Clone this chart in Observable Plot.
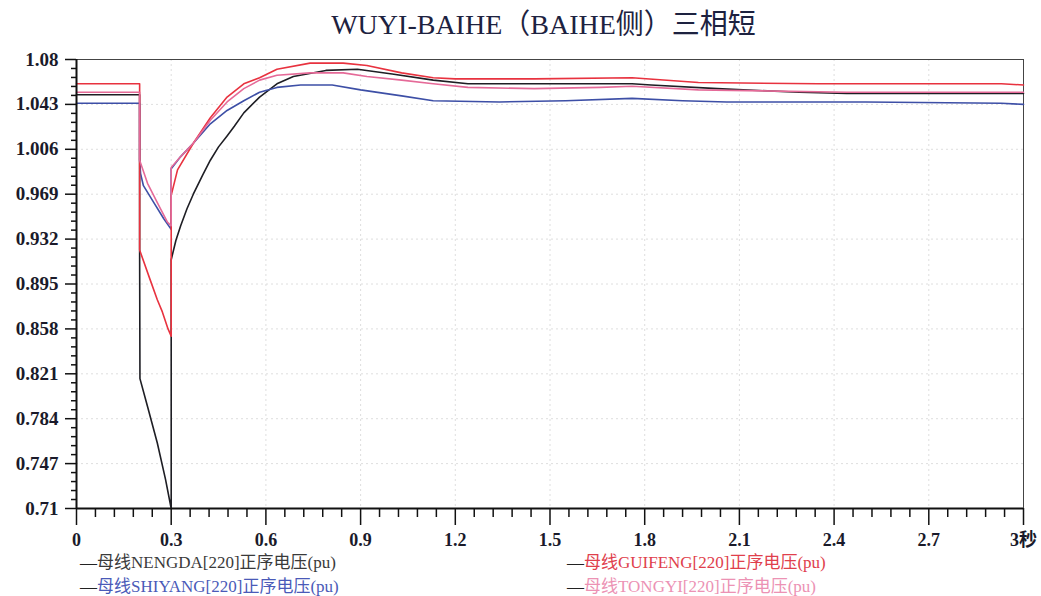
<!DOCTYPE html>
<html><head><meta charset="utf-8">
<script src="https://cdn.jsdelivr.net/npm/d3@7"></script>
<script src="https://cdn.jsdelivr.net/npm/@observablehq/plot@0.6"></script>
<style>
body{margin:0;background:#fff;width:1041px;height:596px;overflow:hidden;font-family:"Liberation Serif","Noto Sans CJK SC",serif;}
#title{height:48px;line-height:50px;font-size:28px;color:#1d2240;text-align:center;padding-left:46px;box-sizing:border-box;white-space:nowrap;}
#chart svg{display:block;}
#legend{position:relative;height:43px;font-size:17px;}
.item{position:absolute;white-space:nowrap;line-height:20px;}
.item .dash{color:#222;}
</style></head><body>
<div id="title">WUYI-BAIHE（BAIHE侧）三相短</div>
<div id="chart"></div>
<div id="legend"></div>
<script>
// ---- data ----
const seriesNames = ["母线NENGDA[220]正序电压(pu)", "母线SHIYANG[220]正序电压(pu)", "母线GUIFENG[220]正序电压(pu)", "母线TONGYI[220]正序电压(pu)"];
const seriesColors = ["#1e1e24", "#3d4fa6", "#e8323f", "#e56a98"];
const legendTextColors = ["#3a3a3a", "#4a5ab8", "#e0404c", "#ec92b4"];

const nengdaT = [0, 0.2, 0.2, 0.201, 0.225, 0.256, 0.282, 0.3, 0.3, 0.315, 0.33, 0.35, 0.37, 0.4, 0.424, 0.45, 0.477, 0.5, 0.53, 0.58, 0.635, 0.687, 0.79, 0.89, 1.0, 1.13, 1.24, 1.5, 1.76, 1.82, 2.03, 2.29, 2.44, 2.67, 3];
const nengdaV = [1.051, 1.051, 0.92, 0.817, 0.794, 0.764, 0.734, 0.71, 0.915, 0.931, 0.943, 0.957, 0.969, 0.985, 0.997, 1.008, 1.017, 1.025, 1.036, 1.049, 1.060, 1.066, 1.071, 1.072, 1.068, 1.063, 1.060, 1.060, 1.060, 1.059, 1.056, 1.053, 1.052, 1.052, 1.052];

const shiyangT = [0, 0.2, 0.2, 0.203, 0.212, 0.245, 0.276, 0.3, 0.3, 0.33, 0.37, 0.424, 0.477, 0.53, 0.58, 0.635, 0.71, 0.81, 0.9, 1.03, 1.13, 1.34, 1.55, 1.76, 1.92, 2.06, 2.5, 2.93, 3];
const shiyangV = [1.044, 1.044, 0.997, 0.986, 0.976, 0.962, 0.949, 0.94, 0.99, 1.0, 1.011, 1.027, 1.038, 1.046, 1.053, 1.057, 1.059, 1.059, 1.055, 1.050, 1.046, 1.045, 1.046, 1.048, 1.046, 1.045, 1.045, 1.044, 1.043];

const guifengT = [0, 0.2, 0.2, 0.234, 0.256, 0.272, 0.29, 0.3, 0.3, 0.32, 0.37, 0.424, 0.477, 0.53, 0.58, 0.635, 0.74, 0.845, 0.92, 1.03, 1.13, 1.2, 1.45, 1.76, 1.97, 2.35, 2.93, 3];
const guifengV = [1.060, 1.060, 0.923, 0.898, 0.882, 0.872, 0.858, 0.852, 0.968, 0.989, 1.011, 1.032, 1.049, 1.060, 1.065, 1.072, 1.077, 1.077, 1.075, 1.069, 1.065, 1.064, 1.064, 1.065, 1.061, 1.060, 1.060, 1.059];

const tongyiT = [0, 0.2, 0.2, 0.225, 0.256, 0.288, 0.3, 0.3, 0.33, 0.37, 0.424, 0.477, 0.53, 0.58, 0.635, 0.74, 0.845, 0.92, 1.03, 1.13, 1.24, 1.45, 1.66, 1.76, 1.97, 2.44, 3];
const tongyiV = [1.053, 1.053, 0.997, 0.978, 0.962, 0.946, 0.943, 0.991, 1.0, 1.011, 1.030, 1.045, 1.056, 1.063, 1.067, 1.069, 1.069, 1.066, 1.063, 1.060, 1.057, 1.056, 1.057, 1.058, 1.055, 1.053, 1.053];

const yTicks = [0.71, 0.747, 0.784, 0.821, 0.858, 0.895, 0.932, 0.969, 1.006, 1.043, 1.08];
const yTickLabels = ["0.71", "0.747", "0.784", "0.821", "0.858", "0.895", "0.932", "0.969", "1.006", "1.043", "1.08"];
const xTicks = [0, 0.3, 0.6, 0.9, 1.2, 1.5, 1.8, 2.1, 2.4, 2.7, 3];
const xTickLabels = ["0", "0.3", "0.6", "0.9", "1.2", "1.5", "1.8", "2.1", "2.4", "2.7", "3秒"];

// ---- build table ----
const seriesT = [nengdaT, shiyangT, guifengT, tongyiT];
const seriesV = [nengdaV, shiyangV, guifengV, tongyiV];
const data = [];
seriesNames.forEach((name, s) => {
  seriesT[s].forEach((t, i) => data.push({name, t, v: seriesV[s][i]}));
});

const xLab = new Map(xTicks.map((d, i) => [d, xTickLabels[i]]));
const yLab = new Map(yTicks.map((d, i) => [d, yTickLabels[i]]));
const minorX = d3.range(0, 51).map(i => i * 0.06).filter(d => !xTicks.some(m => Math.abs(m - d) < 1e-6));
const minorY = d3.range(0, 51).map(i => 0.71 + i * 0.0074).filter(d => !yTicks.some(m => Math.abs(m - d) < 1e-6));

const chart = Plot.plot({
  width: 1041,
  height: 505,
  marginTop: 11,
  marginBottom: 45,
  marginLeft: 76,
  marginRight: 18,
  style: {fontFamily: "'Liberation Serif','Noto Sans CJK SC',serif", background: "#fff"},
  x: {domain: [0, 3]},
  y: {domain: [0.71, 1.08]},
  color: {domain: seriesNames, range: seriesColors},
  marks: [
    Plot.gridY(yTicks.slice(1, -1), {stroke: "#c8c8c8", strokeOpacity: 0.6, strokeDasharray: "2,3"}),
    Plot.gridX(xTicks.slice(1, -1), {stroke: "#c8c8c8", strokeOpacity: 0.6, strokeDasharray: "2,3"}),
    Plot.frame({stroke: "#444", strokeWidth: 1}),
    Plot.line(data, {x: "t", y: "v", z: "name", stroke: "name", strokeWidth: 1.6, curve: "linear"}),
    Plot.ruleX([0], {stroke: "#111", strokeWidth: 2}),
    Plot.ruleY([0.71], {stroke: "#111", strokeWidth: 2}),
    Plot.axisX(minorX, {label: null, tickSize: 9, tickFormat: () => "", stroke: "#111", strokeWidth: 1.5}),
    Plot.axisX(xTicks, {label: null, tickSize: 17, tickPadding: 8, tickFormat: d => xLab.get(d), fontSize: 18, fontWeight: "bold", fill: "#1a1a2a", stroke: "#111", strokeWidth: 1.5}),
    Plot.axisY(minorY, {label: null, tickSize: 5, tickFormat: () => "", stroke: "#111", strokeWidth: 1.5}),
    Plot.axisY(yTicks, {label: null, tickSize: 11, tickPadding: 7, tickFormat: d => yLab.get(d), fontSize: 19, fontWeight: "bold", fill: "#1a1a2a", stroke: "#111", strokeWidth: 1.5})
  ]
});
document.getElementById("chart").append(chart);

// ---- legend ----
const legendPos = [[80, 0], [80, 24], [567, 0], [567, 24]];
const legend = document.getElementById("legend");
seriesNames.forEach((name, i) => {
  const div = document.createElement("div");
  div.className = "item";
  div.style.left = legendPos[i][0] + "px";
  div.style.top = legendPos[i][1] + "px";
  const dash = document.createElement("span");
  dash.className = "dash";
  dash.textContent = "—";
  const txt = document.createElement("span");
  txt.style.color = legendTextColors[i];
  txt.textContent = name;
  div.append(dash, txt);
  legend.append(div);
});
</script>
</body></html>
